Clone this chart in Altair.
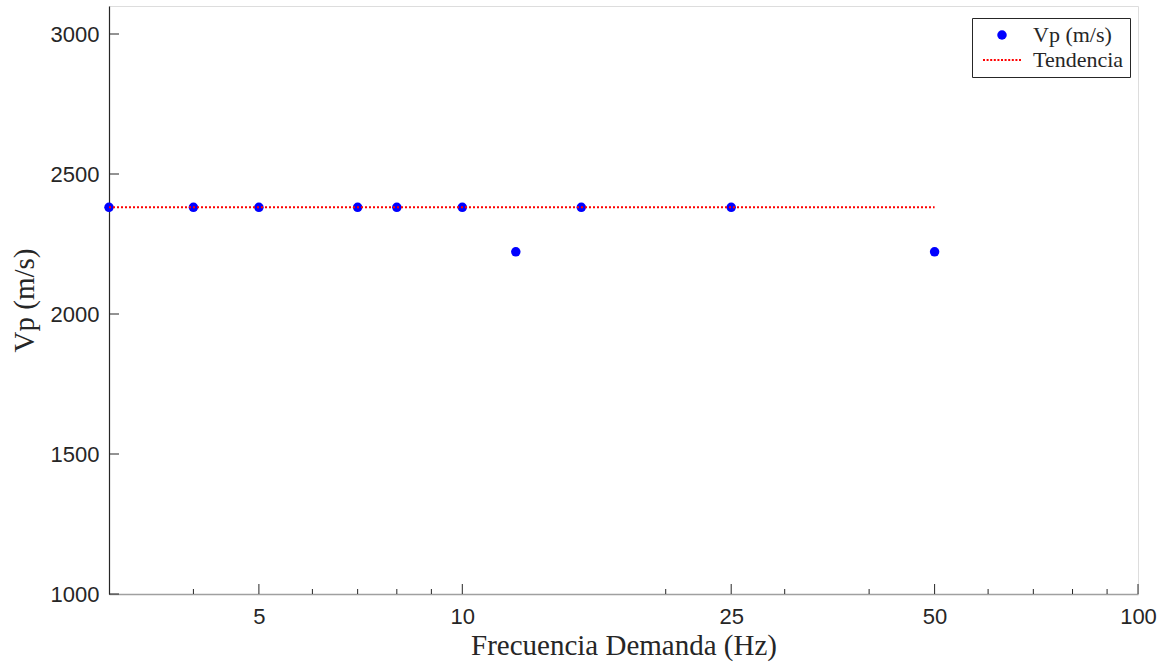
import altair as alt
import pandas as pd

# Measured P-wave velocity against demand frequency
freq_hz = [3, 4, 5, 7, 8, 10, 12, 15, 25, 50]
vp_ms = [2381, 2381, 2381, 2381, 2381, 2381, 2222, 2381, 2381, 2222]

# Trend line endpoints
trend_freq = [3, 50]
trend_vp = [2381, 2381]

# Axis ticks
x_major = [5, 10, 25, 50, 100]
x_minor = [4, 6, 7, 8, 9, 20, 30, 40, 60, 70, 80, 90]
y_major = [1000, 1500, 2000, 2500, 3000]

S_VP = "Vp (m/s)"
S_TR = "Tendencia"
SERIES = [S_VP, S_TR]
COLORS = ["#0000ff", "#ff0000"]

pts = pd.DataFrame({"f": freq_hz, "vp": vp_ms, "serie": S_VP})
trend = pd.DataFrame({"f": trend_freq, "vp": trend_vp, "serie": S_TR})
xmaj = pd.DataFrame({"f": x_major})
xmin = pd.DataFrame({"f": x_minor})
ymaj = pd.DataFrame({"vp": y_major})

W, H = 1029, 588
SERIF = "Liberation Serif"
SANS = "Liberation Sans"
INK = "#262626"
SYM_SIZE = 90


def dotted_symbol(length_px, dot_px, gap_px, size):
    """Symbol path made of small filled squares, read as a dotted line in the legend."""
    unit = (size ** 0.5) / 2.0  # symbol paths are scaled by this factor
    n = int((length_px + gap_px) // (dot_px + gap_px))
    total = n * dot_px + (n - 1) * gap_px
    x = -total / 2.0
    d, h = dot_px / unit, dot_px / unit / 2.0
    parts = []
    for _ in range(n):
        xu = x / unit
        parts.append(f"M{xu:.3f},{-h:.3f}h{d:.3f}v{2 * h:.3f}h{-d:.3f}z")
        x += dot_px + gap_px
    return "".join(parts)


xscale = alt.Scale(type="log", domain=[3, 100], nice=False)
yscale = alt.Scale(domain=[1000, 3100], nice=False, zero=False)

legend = alt.Legend(
    title=None,
    orient="none",
    legendX=W - 166,
    legendY=12,
    strokeColor=INK,
    fillColor="white",
    padding=6,
    labelFont=SERIF,
    labelFontSize=22,
    labelColor=INK,
    labelOffset=20,
    symbolOffset=13,
    symbolSize=SYM_SIZE,
    symbolStrokeWidth=0,
    rowPadding=3,
)

color = alt.Color("serie:N", scale=alt.Scale(domain=SERIES, range=COLORS), legend=legend)
shape = alt.Shape(
    "serie:N",
    scale=alt.Scale(domain=SERIES, range=["circle", dotted_symbol(38, 2, 1.6, SYM_SIZE)]),
    legend=legend,
)

x_enc = alt.X(
    "f:Q",
    scale=xscale,
    axis=alt.Axis(
        values=x_major,
        format="d",
        title="Frecuencia Demanda (Hz)",
        titleFont=SERIF,
        titleFontSize=29,
        titleFontWeight="normal",
        titleColor=INK,
        titlePadding=4,
        labelFont=SANS,
        labelFontSize=22,
        labelColor=INK,
        labelPadding=12,
        ticks=False,
        grid=False,
        domainColor="#a0a0a0",
        domainWidth=1.5,
        labelFlush=False,
    ),
)

y_enc = alt.Y(
    "vp:Q",
    scale=yscale,
    axis=alt.Axis(
        values=y_major,
        format="d",
        title="Vp (m/s)",
        titleFont=SERIF,
        titleFontSize=29,
        titleFontWeight="normal",
        titleColor=INK,
        titlePadding=11,
        labelFont=SANS,
        labelFontSize=22,
        labelColor=INK,
        labelPadding=10,
        ticks=False,
        grid=False,
        domainColor=INK,
        domainWidth=1.2,
    ),
)

points = alt.Chart(pts).mark_point(filled=True, size=SYM_SIZE, opacity=1, strokeWidth=0).encode(
    x=x_enc, y=y_enc, color=color, shape=shape
)

trend_line = alt.Chart(trend).mark_line(strokeWidth=2, strokeDash=[2, 2]).encode(
    x=alt.X("f:Q", scale=xscale), y=alt.Y("vp:Q", scale=yscale), color=color
)

# Inward-pointing ticks
xmaj_ticks = alt.Chart(xmaj).mark_rule(color=INK, strokeWidth=1).encode(
    x=alt.X("f:Q", scale=xscale), y=alt.value(H), y2=alt.value(H - 10)
)
xmin_ticks = alt.Chart(xmin).mark_rule(color=INK, strokeWidth=1).encode(
    x=alt.X("f:Q", scale=xscale), y=alt.value(H), y2=alt.value(H - 5)
)
ymaj_ticks = alt.Chart(ymaj).mark_rule(color=INK, strokeWidth=1).encode(
    y=alt.Y("vp:Q", scale=yscale), x=alt.value(0), x2=alt.value(10)
)

chart = (
    alt.layer(points, trend_line, xmaj_ticks, xmin_ticks, ymaj_ticks)
    .properties(
        width=W,
        height=H,
        autosize=alt.AutoSizeParams(type="none"),
        padding={"left": 109, "top": 6, "right": 29, "bottom": 73},
    )
    .configure_view(stroke=None)
    .configure(background="white")
)

chart.save("out.html", embed_options={"renderer": "svg", "actions": False})
